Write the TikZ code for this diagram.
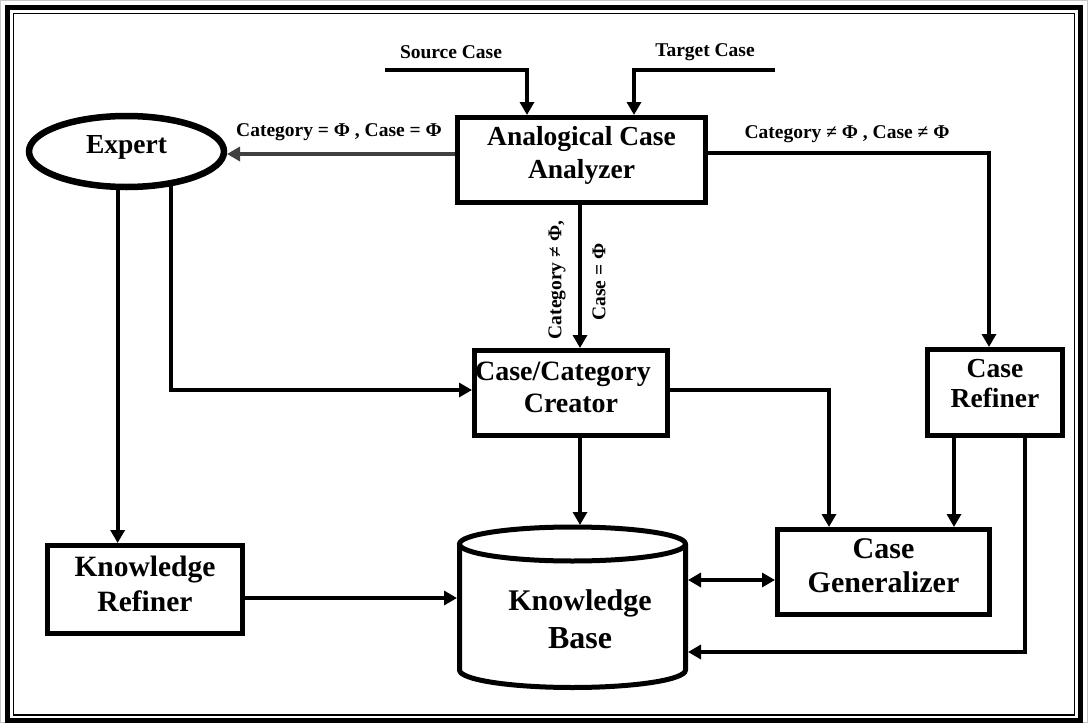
\documentclass[tikz,border=0pt]{standalone}
\usepackage{fontspec}
\setmainfont{Liberation Serif}
\usetikzlibrary{arrows.meta,calc,shapes.geometric}
\definecolor{dgray}{HTML}{404040}
\begin{document}
\begin{tikzpicture}[x=1pt,y=-1pt,
  box/.style={draw, line width=5pt, fill=white, inner sep=0pt, outer sep=2.5pt, align=center},
  conn/.style={line width=4pt, -{Triangle[length=13pt,width=14pt]}},
  lbl/.style={font=\bfseries\fontsize{19.5}{22}\selectfont, inner sep=0pt},
]
\useasboundingbox (0,0) rectangle (1088,723);
% frame
\draw[gray!45, line width=1pt] (0.5,0.5) rectangle (1087.5,722.5);
\draw[line width=5pt] (7.5,7.5) rectangle (1080.5,720);
\draw[line width=1.3pt] (13.3,13.3) rectangle (1074.7,715);

% nodes
\node[box, minimum width=248pt, minimum height=85pt, text depth=16pt, font=\bfseries\fontsize{27.5}{33}\selectfont] (an) at (581.5,160) {Analogical Case\\Analyzer};
\node[ellipse, draw, line width=6.5pt, fill=white, inner sep=0pt, outer sep=3pt, minimum width=195pt, minimum height=71pt, text depth=14pt, font=\bfseries\fontsize{27.5}{33}\selectfont] (ex) at (126.5,151.5) {Expert};
\node[box, minimum width=193pt, minimum height=85pt, text depth=12pt, font=\bfseries\fontsize{28}{32}\selectfont] (cc) at (571,393) {Case/Category\hspace*{16pt}\\Creator};
\node[box, minimum width=135pt, minimum height=86pt, text depth=18pt, font=\bfseries\fontsize{27.5}{30}\selectfont] (cr) at (995,392.5) {Case\\Refiner};
\node[box, minimum width=212pt, minimum height=85pt, text depth=12pt, font=\bfseries\fontsize{30}{34}\selectfont] (cg) at (883.5,572) {Case\\Generalizer};
\node[box, minimum width=195pt, minimum height=88pt, text depth=12pt, font=\bfseries\fontsize{29.5}{35}\selectfont] (kr) at (145,589.5) {Knowledge\\Refiner};

% knowledge base cylinder
\draw[line width=5pt, fill=white] (459.5,544) -- (459.5,670) arc[start angle=180, end angle=0, x radius=113, y radius=17.5] -- (685.5,544);
\draw[line width=5pt, fill=white] (572.5,544) ellipse[x radius=113, y radius=17];
\node[inner sep=0pt, outer sep=0pt, minimum width=231pt, minimum height=165pt] (kb) at (572.5,607.5) {};
\node[anchor=base, inner sep=0pt, font=\bfseries\fontsize{30}{34}\selectfont] (kbt1) at (580,610) {Knowledge};
\node[anchor=base, inner sep=0pt, font=\bfseries\fontsize{32}{36}\selectfont] (kbt2) at (580,648) {Base};

% inputs
\coordinate (s0) at (385,70);
\coordinate (t0) at (775,70);
\node[lbl] (ls) at (451,52) {Source Case};
\node[lbl] (lt) at (705,52) {Target Case};
\draw[conn] (s0) -| ([xshift=-54.5pt]an.north);
\draw[conn] (t0) -| ([xshift=52.5pt]an.north);

% analyzer outputs
\draw[conn, draw=dgray, line width=3.5pt] ([yshift=6pt]an.west) -- ([yshift=6pt]an.west -| ex.east);
\node[lbl] (l1) at (339,132) {Category = Φ , Case = Φ};
\draw[conn] ([yshift=7pt]an.east) -| ([xshift=-6pt]cr.north);
\node[lbl] (l2) at (847,134) {Category ≠ Φ , Case ≠ Φ};
\draw[conn] ([xshift=-1.5pt]an.south) -- ([xshift=-1.5pt]an.south |- cc.north);
\node[lbl, rotate=90] (l3) at (557,280) {Category ≠ Φ,};
\node[lbl, rotate=90] (l4) at (599,282) {Case = Φ};

% expert outputs
\draw[conn] (ex.257) -- (ex.257 |- kr.north);
\draw[conn] (ex.322) |- ([yshift=3pt]cc.west);

% creator / refiner / generalizer
\draw[conn] ([xshift=9pt]cc.south) -- ([xshift=9pt]cc.south |- kb.north);
\draw[conn] ([yshift=3pt]cc.east) -| ([xshift=-54.5pt]cg.north);
\draw[conn] ([xshift=-41pt]cr.south) -- ([xshift=-41pt]cr.south |- cg.north);
\draw[conn] ([xshift=30pt]cr.south) |- ([yshift=-44.5pt]kb.east);
\draw[conn] ([yshift=-8.5pt]kr.east) -- ([yshift=-8.5pt]kr.east -| kb.west);
\draw[line width=4pt, {Triangle[length=13pt,width=14pt]}-{Triangle[length=13pt,width=14pt]}] ([yshift=-8pt]cg.west) -- ([yshift=-8pt]cg.west -| kb.east);
\end{tikzpicture}
\end{document}
